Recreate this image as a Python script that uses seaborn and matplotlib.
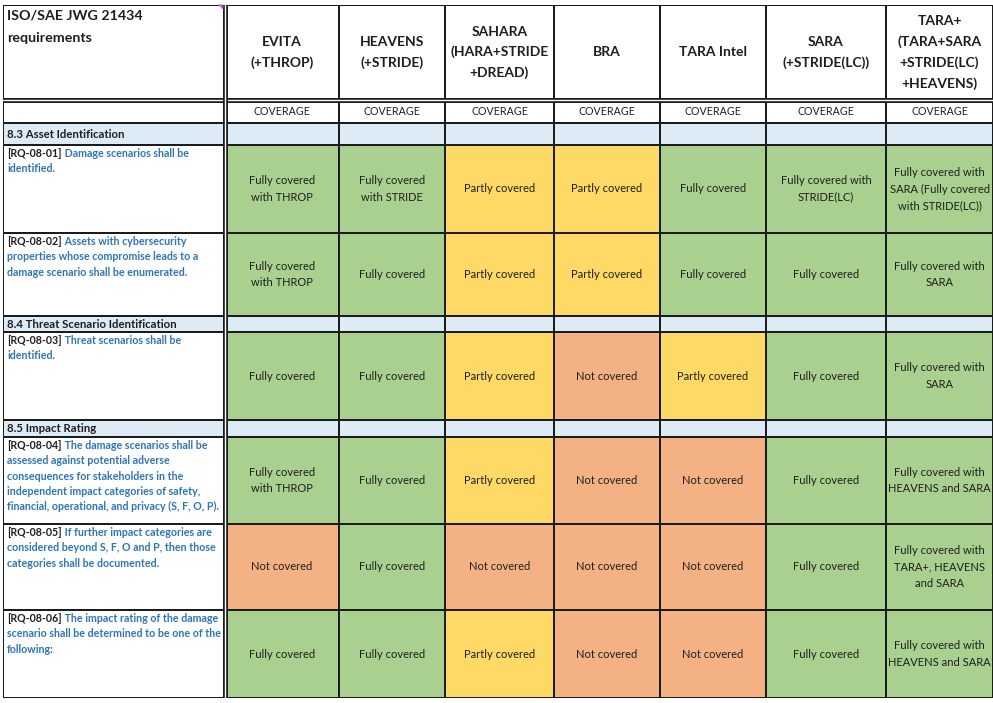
import numpy as np
import pandas as pd
import matplotlib
matplotlib.use('Agg')
import matplotlib.pyplot as plt
from matplotlib.colors import ListedColormap
import seaborn as sns

# table content
methods = ['EVITA\n(+THROP)', 'HEAVENS\n(+STRIDE)', 'SAHARA\n(HARA+STRIDE\n+DREAD)', 'BRA',
           'TARA Intel', 'SARA\n(+STRIDE(LC))', 'TARA+\n(TARA+SARA\n+STRIDE(LC)\n+HEAVENS)']
corner_title = 'ISO/SAE JWG 21434\nrequirements'
sub_header = 'COVERAGE'

sections = ['8.3 Asset Identification', '8.4 Threat Scenario Identification', '8.5 Impact Rating']
# which requirements belong to each section
section_reqs = [[0, 1], [2], [3, 4, 5]]

req_ids = ['[RQ-08-01]', '[RQ-08-02]', '[RQ-08-03]', '[RQ-08-04]', '[RQ-08-05]', '[RQ-08-06]']
req_text = [
    ['Damage scenarios shall be', 'identified.'],
    ['Assets with cybersecurity', 'properties whose compromise leads to a', 'damage scenario shall be enumerated.'],
    ['Threat scenarios shall be', 'identified.'],
    ['The damage scenarios shall be', 'assessed against potential adverse', 'consequences for stakeholders in the',
     'independent impact categories of safety,', 'financial, operational, and privacy (S, F, O, P).'],
    ['If further impact categories are', 'considered beyond S, F, O and P, then those',
     'categories shall be documented.'],
    ['The impact rating of the damage', 'scenario shall be determined to be one of the', 'following:'],
]

# F = fully, P = partly, N = not covered
coverage = [
    ['F', 'F', 'P', 'P', 'F', 'F', 'F'],
    ['F', 'F', 'P', 'P', 'F', 'F', 'F'],
    ['F', 'F', 'P', 'N', 'P', 'F', 'F'],
    ['F', 'F', 'P', 'N', 'N', 'F', 'F'],
    ['N', 'F', 'N', 'N', 'N', 'F', 'F'],
    ['F', 'F', 'P', 'N', 'N', 'F', 'F'],
]
cell_notes = [
    ['Fully covered\nwith THROP', 'Fully covered\nwith STRIDE', 'Partly covered', 'Partly covered',
     'Fully covered', 'Fully covered with\nSTRIDE(LC)', 'Fully covered with\nSARA (Fully covered\nwith STRIDE(LC))'],
    ['Fully covered\nwith THROP', 'Fully covered', 'Partly covered', 'Partly covered',
     'Fully covered', 'Fully covered', 'Fully covered with\nSARA'],
    ['Fully covered', 'Fully covered', 'Partly covered', 'Not covered',
     'Partly covered', 'Fully covered', 'Fully covered with\nSARA'],
    ['Fully covered\nwith THROP', 'Fully covered', 'Partly covered', 'Not covered',
     'Not covered', 'Fully covered', 'Fully covered with\nHEAVENS and SARA'],
    ['Not covered', 'Fully covered', 'Not covered', 'Not covered',
     'Not covered', 'Fully covered', 'Fully covered with\nTARA+, HEAVENS\nand SARA'],
    ['Fully covered', 'Fully covered', 'Partly covered', 'Not covered',
     'Not covered', 'Fully covered', 'Fully covered with\nHEAVENS and SARA'],
]

# layout: pixel edges of columns and rows
col_px = [3, 225, 339, 445, 554, 660, 766, 886, 993]
row_px = [5, 100, 123, 145, 233, 316, 332, 420, 437, 524, 610, 698]

# build the row list: header, coverage, then sections + requirements
rows = [('header', None), ('sub', None)]
for s, reqs in enumerate(section_reqs):
    rows.append(('section', s))
    for r in reqs:
        rows.append(('req', r))

code_of = {'N': 2, 'P': 3, 'F': 4}
grid = np.zeros((len(rows), len(methods) + 1), dtype=int)
for i, (kind, k) in enumerate(rows):
    if kind == 'section':
        grid[i, :] = 1
    elif kind == 'req':
        grid[i, 1:] = [code_of[c] for c in coverage[k]]
codes = pd.DataFrame(grid)

cmap = ListedColormap(['white', '#DDEBF7', '#F4B183', '#FFD966', '#A9D08E'])

sns.set_theme(style='white')
plt.rcParams['font.family'] = ['Lato', 'DejaVu Sans']

W, H = 993, 703
fig = plt.figure(figsize=(W / 100, H / 100), dpi=100)
ax = fig.add_axes([col_px[0] / W, 1 - row_px[-1] / H,
                   (col_px[-1] - col_px[0]) / W, (row_px[-1] - row_px[0]) / H])

sns.heatmap(codes, ax=ax, cmap=cmap, vmin=-0.5, vmax=4.5, cbar=False,
            linewidths=1.3, linecolor='#1c1c1c', xticklabels=False, yticklabels=False)


def piecewise(edges):
    idx = np.arange(len(edges), dtype=float)
    e = np.asarray(edges, dtype=float)
    idx = np.concatenate([[idx[0] - 1000], idx, [idx[-1] + 1000]])
    e = np.concatenate([[e[0] - 1000], e, [e[-1] + 1000]])
    fwd = lambda v: np.interp(v, idx, e)
    inv = lambda v: np.interp(v, e, idx)
    return fwd, inv


ax.set_xscale('function', functions=piecewise(col_px))
ax.set_yscale('function', functions=piecewise(row_px))
ax.set_xlim(0, len(methods) + 1)
ax.set_ylim(len(rows), 0)
ax.set_xticks([])
ax.set_yticks([])
for sp in ax.spines.values():
    sp.set_visible(False)

# double rules under the header and right of the requirement column
ax.axhline(1, color='#1c1c1c', lw=3.6)
ax.axhline(1, color='white', lw=1.0)
ax.axvline(1, color='#1c1c1c', lw=3.6)
ax.axvline(1, color='white', lw=1.0)

dark = '#1e1e1e'
blue = '#2E75B6'


def put(text, x, y, dx=0, dy=0, **kw):
    return ax.annotate(text, xy=(x, y), xytext=(dx, dy), textcoords='offset pixels',
                       annotation_clip=False, **kw)


# little comment marker in the corner cell
put('\u25E5', 1, 0, -2, 1, ha='right', va='top', fontsize=5, color='#B45CC8',
    family='DejaVu Sans')

put(corner_title, 0, 0, 4, -4, ha='left', va='top', fontsize=10.3, fontweight='bold',
    color=dark, linespacing=2.05)
for j, m in enumerate(methods):
    put(m, j + 1.5, 0.5, ha='center', va='center', fontsize=10, fontweight='bold',
        color=dark, linespacing=1.78, multialignment='center')
    put(sub_header, j + 1.5, 1.5, ha='center', va='center', fontsize=7.7, color=dark)

fs_req = 7.7
for i, (kind, k) in enumerate(rows):
    if kind == 'section':
        put(sections[k], 0, i + 0.5, 4, 0, ha='left', va='center', fontsize=8.2,
            fontweight='bold', color=dark)
    elif kind == 'req':
        lines = req_text[k]
        first = put(req_ids[k], 0, i, 4, -3, ha='left', va='top', fontsize=fs_req,
                    fontweight='bold', color=dark)
        ax.annotate(' ' + lines[0], xy=(1, 0), xycoords=first, ha='left', va='bottom',
                    fontsize=fs_req, fontweight='bold', color=blue)
        for n, line in enumerate(lines[1:], start=1):
            put(line, 0, i, 4, -3 - 15.3 * n, ha='left', va='top', fontsize=fs_req,
                fontweight='bold', color=blue)
        for j, note in enumerate(cell_notes[k]):
            put(note, j + 1.5, i + 0.5, ha='center', va='center', fontsize=8.0,
                color=dark, linespacing=1.6, multialignment='center')

fig.savefig('out.png', dpi=100)
